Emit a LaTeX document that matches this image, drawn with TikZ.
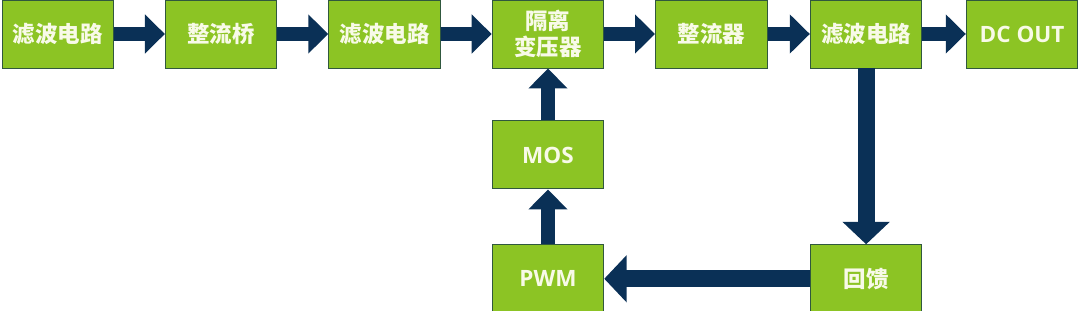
\documentclass[tikz,border=0pt]{standalone}
\usepackage{fontspec}
\setmainfont{Noto Sans CJK SC}
\newfontfamily\latinfont{Open Sans}
\usetikzlibrary{arrows.meta, positioning}
\definecolor{boxgreen}{RGB}{140,196,36}
\definecolor{boxedge}{RGB}{48,88,62}
\definecolor{boxtext}{RGB}{248,250,232}
\definecolor{navy}{RGB}{10,48,86}

\begin{document}
\begin{tikzpicture}[
    node distance=1.3cm and 1.27cm,
    font=\fontsize{16}{19}\selectfont\bfseries,
    block/.style={draw=boxedge, line width=0.7pt, fill=boxgreen, text=boxtext, align=center,
      minimum width=2.79cm, minimum height=1.7cm, inner sep=1pt},
    flow/.style={line width=0.35cm, navy, -{Triangle[width=0.95cm, length=0.5cm]}},
    back/.style={line width=0.42cm, navy, -{Triangle[width=1.15cm, length=0.56cm]}}
  ]
    \useasboundingbox (0,0) rectangle (27,-7.775);
    % main power path
    \node[block] (filt1) at (1.445,-0.85) {滤波电路};
    \node[block, right=of filt1] (bridge) {整流桥};
    \node[block, right=of bridge] (filt2) {滤波电路};
    \node[block, right=of filt2] (xfmr) {隔离\\变压器};
    \node[block, right=of xfmr] (rect) {整流器};
    \node[block, right=1.055cm of rect] (filt3) {滤波电路};
    \node[block, right=1.085cm of filt3] (out) {\latinfont DC OUT};
    % control loop
    \node[block, below=of xfmr] (mos) {\latinfont MOS};
    \node[block, below=1.37cm of mos] (pwm) {\latinfont PWM};
    \node[block] (fb) at (filt3 |- pwm) {回馈};
    \draw[flow] (filt1) -- (bridge);
    \draw[flow] (bridge) -- (filt2);
    \draw[flow] (filt2) -- (xfmr);
    \draw[flow] (xfmr) -- (rect);
    \draw[flow] (rect) -- (filt3);
    \draw[flow] (filt3) -- (out);
    \draw[back] (filt3) -- (fb);
    \draw[back] (fb) -- (pwm);
    \draw[flow] (pwm) -- (mos);
    \draw[flow] (mos) -- (xfmr);
  \end{tikzpicture}
\end{document}
